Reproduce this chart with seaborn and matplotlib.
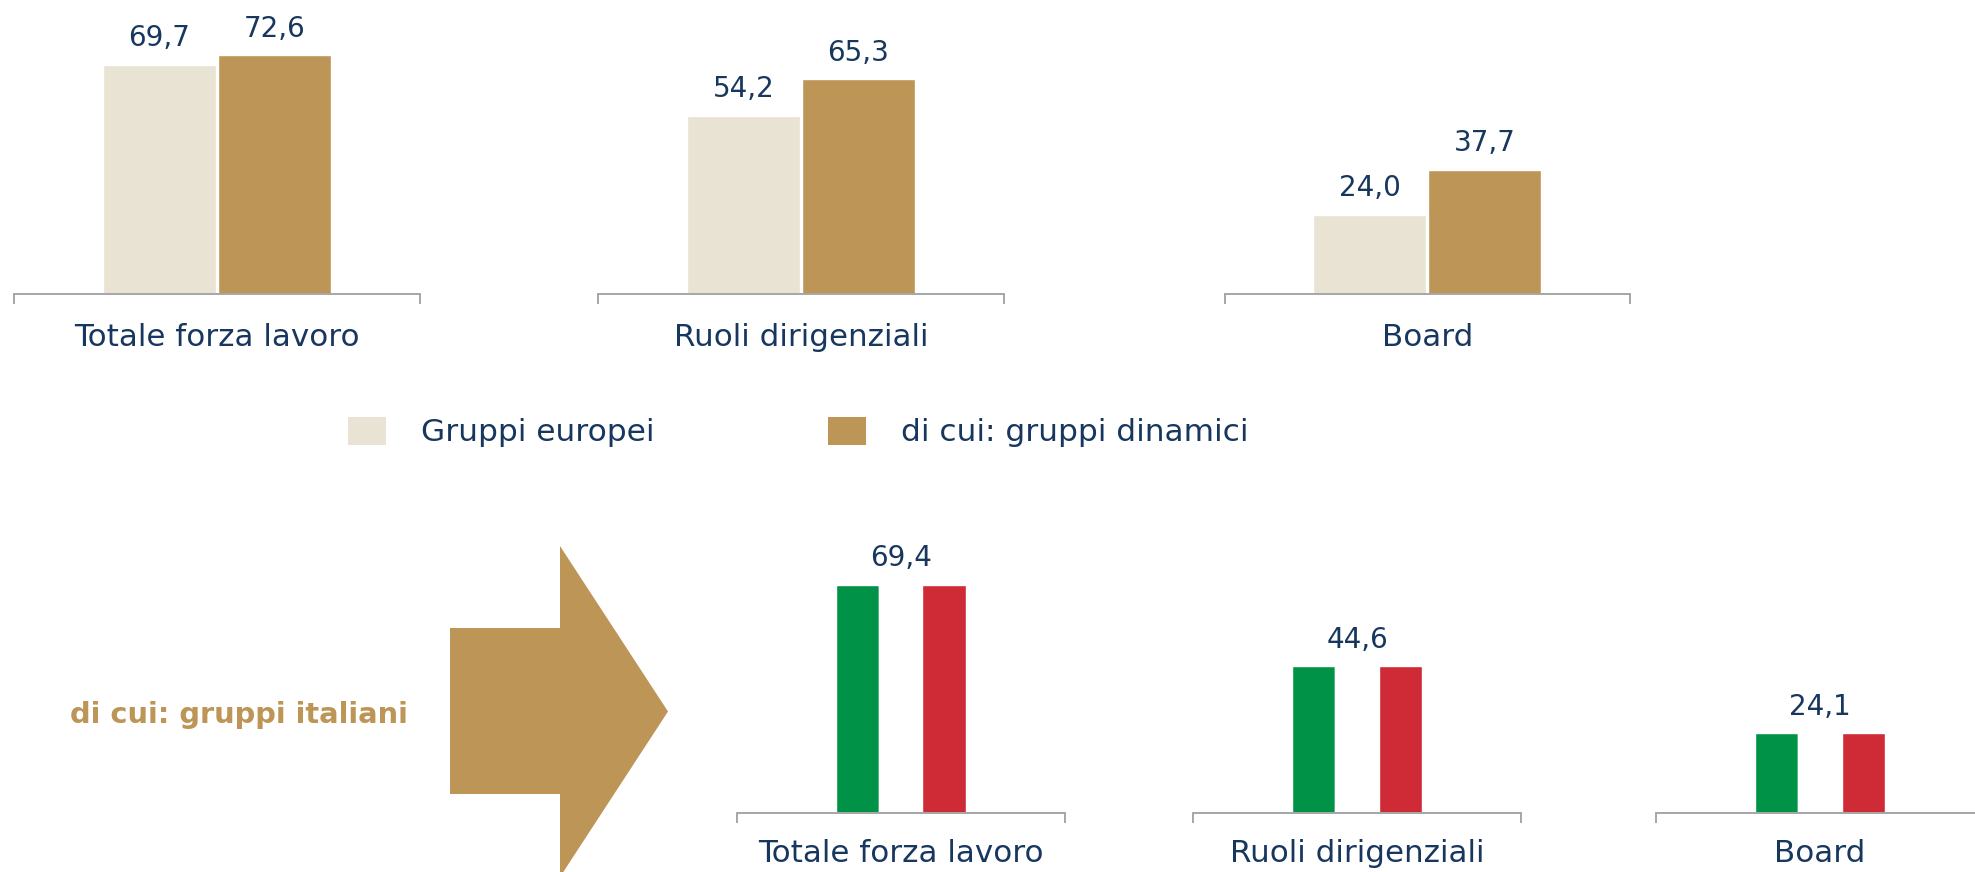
import matplotlib
matplotlib.use("Agg")
import matplotlib.pyplot as plt
from matplotlib.patches import Patch, Polygon
import seaborn as sns
import pandas as pd

# data
categorie = ["Totale forza lavoro", "Ruoli dirigenziali", "Board"]
serie_europee = ["Gruppi europei", "di cui: gruppi dinamici"]
gruppi_europei = [69.7, 54.2, 24.0]
gruppi_dinamici = [72.6, 65.3, 37.7]
gruppi_italiani = [69.4, 44.6, 24.1]
bande_tricolore = ["verde", "bianco", "rosso"]
titolo_italia = "di cui: gruppi italiani"

BEIGE = "#E8E3D2"
ORO = "#BD9556"
VERDE = "#009246"
ROSSO = "#CE2B37"
BLU = "#17375E"
GRIGIO = "#A6A6A6"

W, H = 1975, 872

df_eu = pd.DataFrame({
    "categoria": categorie * 2,
    "serie": [s for s in serie_europee for _ in categorie],
    "valore": gruppi_europei + gruppi_dinamici,
})
df_it = pd.DataFrame({
    "categoria": categorie * 3,
    "banda": [b for b in bande_tricolore for _ in categorie],
    "valore": gruppi_italiani * 3,
})

sns.set_theme(style="white")
plt.rcParams["font.family"] = ["DejaVu Sans"]

fig = plt.figure(figsize=(W / 100, H / 100), dpi=100)


def add_ax(left, bottom, width, height):
    return fig.add_axes([left / W, bottom / H, width / W, height / H])


def style_axis(ax, label, pad):
    ax.set_xlim(-0.5, 0.5)
    ax.set_ylim(0, 80)
    ax.set_xticks([0])
    ax.set_xticklabels([label])
    ax.set_xticks([-0.5, 0.5], minor=True)
    ax.tick_params(axis="x", which="major", length=0, pad=pad,
                   labelsize=22.3, labelcolor=BLU)
    ax.tick_params(axis="x", which="minor", length=7.2, width=1.4,
                   color=GRIGIO, direction="out", bottom=True)
    ax.set_yticks([])
    ax.set_xlabel("")
    ax.set_ylabel("")
    for s in ["left", "top", "right"]:
        ax.spines[s].set_visible(False)
    ax.spines["bottom"].set_color(GRIGIO)
    ax.spines["bottom"].set_linewidth(1.4)
    ax.patch.set_alpha(0)


def fmt(v):
    return f"{v:.1f}".replace(".", ",")


# top row: european groups
top_lefts = [14, 598, 1224.5]
for cat, left in zip(categorie, top_lefts):
    ax = add_ax(left, 578.5, 405.6, 262.4)
    sub = df_eu[df_eu["categoria"] == cat]
    sns.barplot(data=sub, x="categoria", y="valore", hue="serie",
                hue_order=serie_europee, palette=[BEIGE, ORO],
                width=0.567, gap=0.02, saturation=1, errorbar=None,
                legend=False, ax=ax)
    for cont in ax.containers:
        ax.bar_label(cont, labels=[fmt(b.get_height()) for b in cont],
                     padding=9, fontsize=20, color=BLU)
    style_axis(ax, cat, 21)

# bottom row: italian groups
bottom_lefts = [736.6, 1193, 1656]
for cat, left in zip(categorie, bottom_lefts):
    ax = add_ax(left, 59.5, 328, 262.4)
    sub = df_it[df_it["categoria"] == cat]
    sns.barplot(data=sub, x="categoria", y="valore", hue="banda",
                hue_order=bande_tricolore, palette=[VERDE, "white", ROSSO],
                width=0.396, saturation=1, errorbar=None,
                legend=False, ax=ax)
    mid = ax.containers[1]
    ax.bar_label(mid, labels=[fmt(b.get_height()) for b in mid],
                 padding=9, fontsize=20, color=BLU)
    style_axis(ax, cat, 19)

# legend
for name, color, x in zip(serie_europee, [BEIGE, ORO], [348, 828]):
    fig.legend(handles=[Patch(facecolor=color, edgecolor="none")],
               labels=[name], loc="center left",
               bbox_to_anchor=(x / W, 1 - 432 / H), frameon=False,
               fontsize=22.5, handlelength=1.22, handleheight=1.0,
               handletextpad=1.12, borderpad=0, borderaxespad=0,
               labelcolor=BLU)

# arrow and side label
freccia = [(450, 628), (560, 628), (560, 546), (668, 711.5),
           (560, 877), (560, 794), (450, 794)]
fig.add_artist(Polygon([(x / W, 1 - y / H) for x, y in freccia],
                       closed=True, facecolor=ORO, edgecolor="none",
                       transform=fig.transFigure))
fig.text(70 / W, 1 - 715 / H, titolo_italia, ha="left", va="center",
         fontsize=20.8, fontweight="bold", color=ORO)

fig.savefig("out.png", dpi=100)
